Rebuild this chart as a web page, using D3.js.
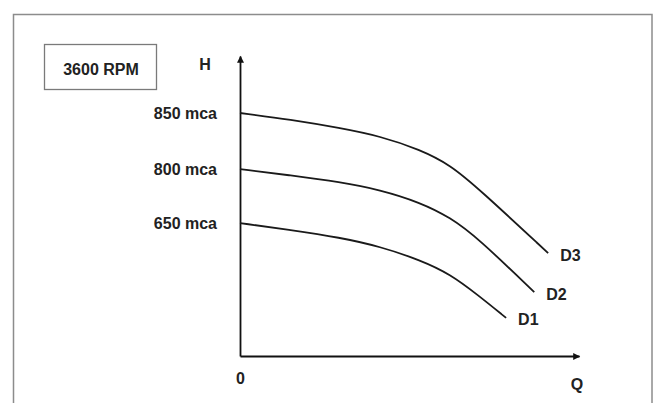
<!DOCTYPE html>
<html lang="en">
<head>
    <meta charset="UTF-8">
    <title>Pump curves 3600 RPM</title>
    <style>
        body { margin: 0; background: #fff; }
        text { font-family: "Liberation Sans", Arial, sans-serif; font-weight: bold; fill: #222; }
        .curve { fill: none; stroke: #1a1a1a; stroke-width: 1.8; }
    </style>
    <script src="https://d3js.org/d3.v7.min.js"></script>
</head>
<body>
    <svg width="656" height="403"></svg>
    <script>
        // relative flow (Q) and relative head (H), schematic units
        const curveNames = ["D1", "D2", "D3"];
        const headLabels = ["650 mca", "800 mca", "850 mca"];
        const qD1 = [0, 15, 29.5, 41.3, 53.1, 62, 70.2, 78.5];
        const hD1 = [44.3, 42, 39.5, 36.5, 32, 27.3, 20.3, 12.7];
        const qD2 = [0, 15, 29.5, 41.3, 53.1, 62, 70.2, 86.8];
        const hD2 = [62.3, 60.2, 58, 55.4, 51.2, 46.2, 39.3, 21.3];
        const qD3 = [0, 15, 29.5, 41.3, 53.1, 62, 70.2, 90.9];
        const hD3 = [81, 78.8, 76, 73.3, 68.8, 63.7, 56, 34.3];
        const rpmLabel = "3600 RPM";

        const svg = d3.select("svg");
        const fs = "16px";

        // outer frame
        svg.append("rect")
            .attr("x", 13.5).attr("y", 14.5)
            .attr("width", 638.5).attr("height", 400)
            .attr("fill", "none").attr("stroke", "#8c8c8c").attr("stroke-width", 1.5);

        // rpm box
        svg.append("rect")
            .attr("x", 44.5).attr("y", 44.5)
            .attr("width", 112).attr("height", 45)
            .attr("fill", "none").attr("stroke", "#7a7a7a").attr("stroke-width", 1.3);
        svg.append("text")
            .attr("x", 101).attr("y", 69)
            .attr("text-anchor", "middle").attr("dominant-baseline", "central")
            .style("font-size", fs)
            .text(rpmLabel);

        const x = d3.scaleLinear().domain([0, 100]).range([240, 579]);
        const y = d3.scaleLinear().domain([0, 100]).range([356, 56]);

        const defs = svg.append("defs");
        defs.append("marker")
            .attr("id", "arrow")
            .attr("viewBox", "0 0 10 10")
            .attr("refX", 9).attr("refY", 5)
            .attr("markerUnits", "userSpaceOnUse")
            .attr("markerWidth", 8).attr("markerHeight", 7)
            .attr("orient", "auto")
            .append("path")
            .attr("d", "M0,0L10,5L0,10Z")
            .attr("fill", "#111");

        const series = [
            { name: curveNames[0], label: headLabels[0], pts: d3.zip(qD1, hD1) },
            { name: curveNames[1], label: headLabels[1], pts: d3.zip(qD2, hD2) },
            { name: curveNames[2], label: headLabels[2], pts: d3.zip(qD3, hD3) }
        ];

        const yAxis = svg.append("g")
            .attr("transform", `translate(${x(0)},0)`)
            .call(d3.axisLeft(y)
                .tickValues(series.map(s => s.pts[0][1]))
                .tickFormat((d, i) => series[i].label)
                .tickSize(0).tickSizeOuter(0).tickPadding(23));
        yAxis.select(".domain").attr("stroke", "#111").attr("stroke-width", 1.8)
            .attr("marker-end", "url(#arrow)");
        yAxis.selectAll("text").attr("fill", "#222").style("font-size", fs)
            .attr("dy", "0.36em");

        const xAxis = svg.append("g")
            .attr("transform", `translate(0,${y(0)})`)
            .call(d3.axisBottom(x)
                .tickValues([0])
                .tickFormat(d3.format("d"))
                .tickSize(0).tickSizeOuter(0).tickPadding(17));
        xAxis.select(".domain").attr("stroke", "#111").attr("stroke-width", 1.8)
            .attr("marker-end", "url(#arrow)");
        xAxis.selectAll("text").attr("fill", "#222").style("font-size", fs);
        svg.selectAll(".tick text").attr("font-family", null);

        // axis titles
        svg.append("text").attr("x", x(0) - 35).attr("y", 64)
            .attr("text-anchor", "middle").attr("dominant-baseline", "central")
            .style("font-size", fs).text("H");
        svg.append("text").attr("x", x(100) - 2).attr("y", 384)
            .attr("text-anchor", "middle").attr("dominant-baseline", "central")
            .style("font-size", fs).text("Q");

        const line = d3.line()
            .x(d => x(d[0]))
            .y(d => y(d[1]))
            .curve(d3.curveBasis);

        svg.selectAll(".curve")
            .data(series)
            .enter()
            .append("path")
            .attr("class", "curve")
            .attr("d", d => line(d.pts));

        svg.selectAll(".end-label")
            .data(series)
            .enter()
            .append("text")
            .attr("class", "end-label")
            .attr("x", d => x(d.pts[d.pts.length - 1][0]) + 12)
            .attr("y", d => y(d.pts[d.pts.length - 1][1]) + 2)
            .attr("dominant-baseline", "central")
            .style("font-size", fs)
            .text(d => d.name);
    </script>
</body>
</html>
